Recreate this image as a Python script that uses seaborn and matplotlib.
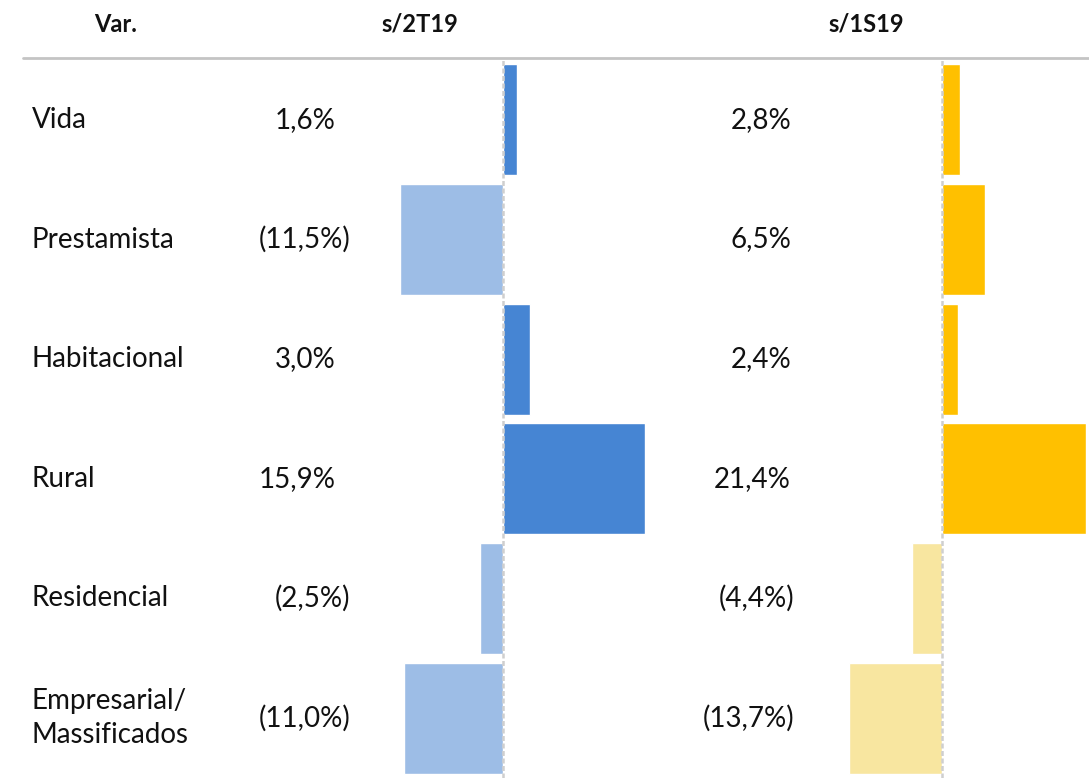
import matplotlib
matplotlib.use("Agg")
import matplotlib.pyplot as plt
import matplotlib.transforms as mtransforms
import seaborn as sns

# données
categorias = ["Vida", "Prestamista", "Habitacional", "Rural", "Residencial", "Empresarial/\nMassificados"]
var_2t19 = [1.6, -11.5, 3.0, 15.9, -2.5, -11.0]
var_1s19 = [2.8, 6.5, 2.4, 21.4, -4.4, -13.7]
cabecalhos = ["Var.", "s/2T19", "s/1S19"]

W, H = 1089, 778
sns.set_theme(style="white")
plt.rcParams["font.family"] = ["Lato", "DejaVu Sans"]

fig = plt.figure(figsize=(W / 100, H / 100), dpi=100)


def fx(px):
    return px / W


def fy(py):
    return 1 - py / H


def fmt(v):
    s = f"{abs(v):.1f}".replace(".", ",") + "%"
    return f"({s})" if v < 0 else s


top, bottom = 60, 778
paineis = [
    (var_2t19, 400, 645, "#4685D3", "#9DBDE6", 350, 336),
    (var_1s19, 849, 1086, "#FFC000", "#F8E6A0", 794, 791),
]

for vals, x0, x1, cor_pos, cor_neg, xneg, xpos in paineis:
    ax = fig.add_axes([fx(x0), fy(bottom), fx(x1) - fx(x0), (bottom - top) / H])
    cores = [cor_pos if v >= 0 else cor_neg for v in vals]
    sns.barplot(x=vals, y=categorias, hue=categorias, palette=cores, legend=False,
                orient="h", width=0.93, saturation=1, ax=ax)
    ax.set_xlim(min(vals), max(vals))
    ax.set_ylim(len(vals) - 0.5, -0.5)
    ax.axvline(0, color="#CFCFCF", lw=1.8, ls=(0, (2, 1)), zorder=3)
    ax.set_axis_off()

    tr = mtransforms.blended_transform_factory(fig.transFigure, ax.transData)
    for i, v in enumerate(vals):
        ax.text(fx(xneg if v < 0 else xpos), i, fmt(v), transform=tr,
                ha="right", va="center", fontsize=20, color="#111111")

# rótulos das linhas
for i, c in enumerate(categorias):
    ax.text(fx(32), i, c, transform=tr, ha="left", va="center",
            fontsize=20, color="#111111", linespacing=1.35)

# cabeçalho
for txt, xc in zip(cabecalhos, [116, 420, 866]):
    fig.text(fx(xc), fy(24), txt, ha="center", va="center",
             fontsize=17, fontweight="bold", color="#111111")

fig.add_artist(plt.Line2D([fx(23), 1], [fy(58), fy(58)], color="#C4C4C4", lw=2,
                          transform=fig.transFigure))

fig.savefig("out.png", dpi=100)
